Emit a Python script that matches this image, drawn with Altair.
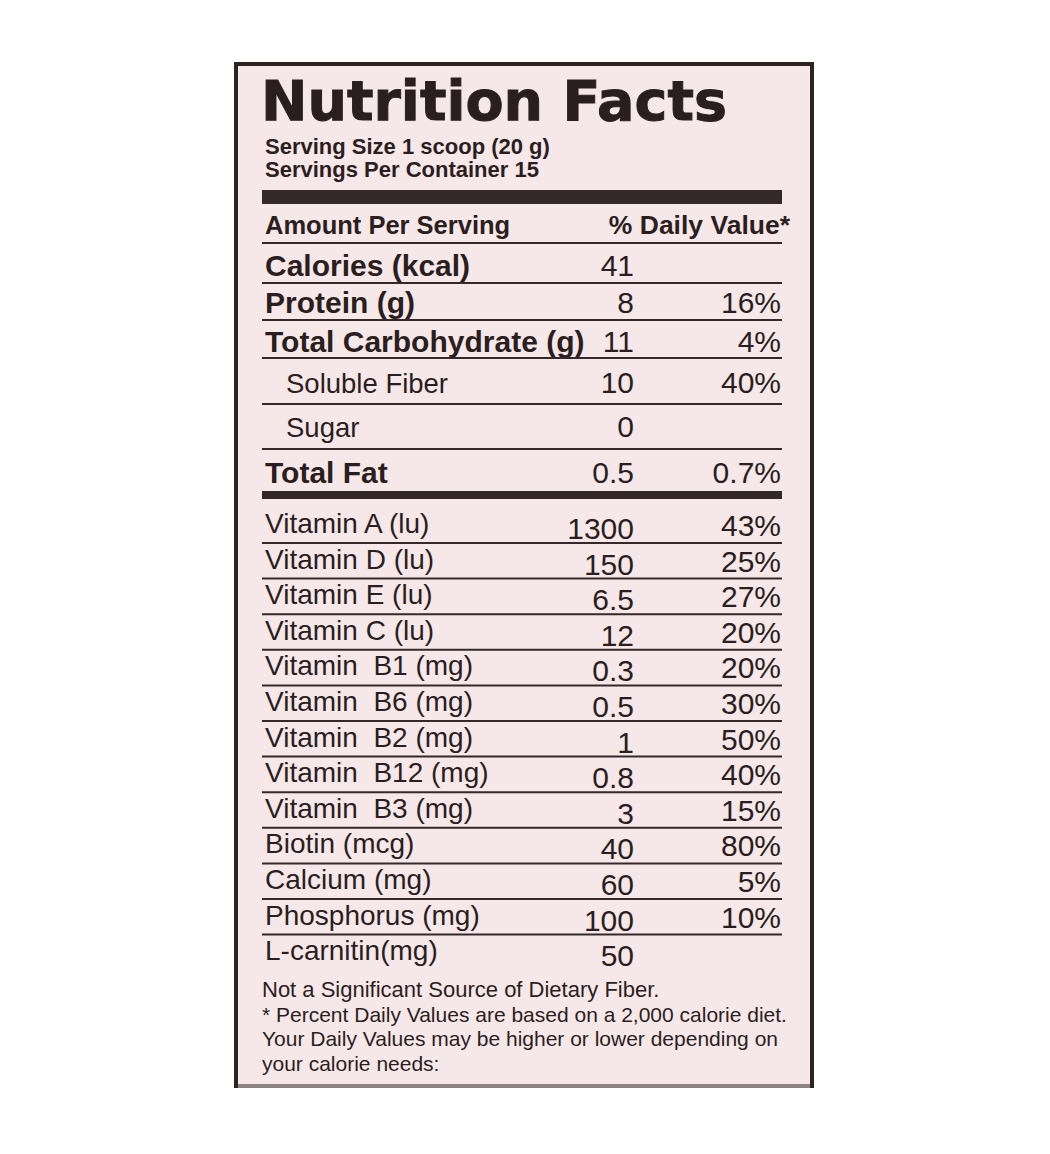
import altair as alt
import pandas as pd

# ---------------- data ----------------
title = "Nutrition Facts"
serving_lines = ["Serving Size 1 scoop (20 g)", "Servings Per Container 15"]
header_left = "Amount Per Serving"
header_right = "% Daily Value*"

main_labels = ["Calories (kcal)", "Protein (g)", "Total Carbohydrate (g)",
               "Soluble Fiber", "Sugar", "Total Fat"]
main_amounts = ["41", "8", "11", "10", "0", "0.5"]
main_dv = ["", "16%", "4%", "40%", "", "0.7%"]
main_is_sub = [False, False, False, True, True, False]

vit_labels = ["Vitamin A (lu)", "Vitamin D (lu)", "Vitamin E (lu)", "Vitamin C (lu)",
              "Vitamin\u00a0 B1 (mg)", "Vitamin\u00a0 B6 (mg)", "Vitamin\u00a0 B2 (mg)",
              "Vitamin\u00a0 B12 (mg)", "Vitamin\u00a0 B3 (mg)", "Biotin (mcg)",
              "Calcium (mg)", "Phosphorus (mg)", "L-carnitin(mg)"]
vit_amounts = ["1300", "150", "6.5", "12", "0.3", "0.5", "1", "0.8", "3",
               "40", "60", "100", "50"]
vit_dv = ["43%", "25%", "27%", "20%", "20%", "30%", "50%", "40%", "15%",
          "80%", "5%", "10%", ""]

footnotes = ["Not a Significant Source of Dietary Fiber.",
             "* Percent Daily Values are based on a 2,000 calorie diet.",
             "Your Daily Values may be higher or lower depending on",
             "your calorie needs:"]

# ---------------- layout (page pixels) ----------------
W, H = 1034, 1130
M = 8  # page margin
TEXT = "#2b1e1e"
LINE = "#35282a"
BG = "#f6e8e8"
SANS = "Liberation Sans"

xs = alt.Scale(domain=[0, W], range=[0, W])
ys = alt.Scale(domain=[0, H], range=[0, H])


def X(f="x"):
    return alt.X(f + ":Q", scale=xs, axis=None)


def Y(f="y"):
    return alt.Y(f + ":Q", scale=ys, axis=None)


def texts(rows, align, size, weight="normal", font=SANS, **kw):
    df = pd.DataFrame([{"x": x - M, "y": y - M, "t": t} for x, y, t in rows if t != ""])
    return alt.Chart(df).mark_text(align=align, baseline="alphabetic", font=font,
                                   fontSize=size, fontWeight=weight, color=TEXT, **kw
                                   ).encode(x=X(), y=Y(), text="t:N")


def rules(rows, width, color=LINE):
    df = pd.DataFrame([{"x": a - M, "x2": b - M, "y": y - M} for a, b, y in rows])
    return alt.Chart(df).mark_rule(color=color, strokeWidth=width).encode(
        x=X(), x2="x2", y=Y())


def bars(rows, color=LINE):
    df = pd.DataFrame([{"x": a - M, "x2": b - M, "y": c - M, "y2": d - M} for a, b, c, d in rows])
    return alt.Chart(df).mark_rect(color=color).encode(x=X(), x2="x2", y=Y(), y2="y2")


LX, SUBX, AMX, DVX, RX = 265, 286, 634, 781, 782
LL = 262

layers = []
# label panel
border = pd.DataFrame([{"x": 236 - M, "x2": 812 - M, "y": 64 - M, "y2": 1086 - M}])
layers.append(alt.Chart(border).mark_rect(fill=BG, stroke="#2e2323", strokeWidth=4).encode(
    x=X(), x2="x2", y=Y(), y2="y2"))
layers.append(rules([(238, 810, 1086)], 4, color="#8f8585"))

# title block
layers.append(texts([(261, 120, title)], "left", 55.5, "bold", font="DejaVu Sans",
                    stroke=TEXT, strokeWidth=1))
layers.append(texts([(265, 154 + 23 * i, s) for i, s in enumerate(serving_lines)], "left", 22, "bold"))
layers.append(bars([(LL, RX, 190, 204)]))
layers.append(texts([(LX, 234, header_left)], "left", 25.5, "bold"))
layers.append(texts([(790, 234, header_right)], "right", 26.5, "bold"))
layers.append(rules([(LL, RX, 243)], 2))

# main nutrients
main_base = [276, 313, 352, 393, 437, 483]
main_lines = [283, 320, 358, 404, 449]
layers.append(texts([(LX, b, t) for b, t, s in zip(main_base, main_labels, main_is_sub) if not s],
                    "left", 30, "bold"))
layers.append(texts([(SUBX, b, t) for b, t, s in zip(main_base, main_labels, main_is_sub) if s],
                    "left", 27.5))
layers.append(texts([(AMX, b, t) for b, t in zip(main_base, main_amounts)], "right", 30))
layers.append(texts([(DVX, b, t) for b, t in zip(main_base, main_dv)], "right", 30))
layers.append(rules([(LL, RX, y) for y in main_lines], 2))
layers.append(bars([(LL, RX, 491, 499)]))

# vitamins & minerals
STEP = 35.6
vit_line = [543 + STEP * i for i in range(len(vit_labels))]
layers.append(texts([(LX, v - 10, t) for v, t in zip(vit_line, vit_labels)], "left", 28))
layers.append(texts([(AMX, v - 4, t) for v, t in zip(vit_line, vit_amounts)], "right", 30))
layers.append(texts([(DVX, v - 7, t) for v, t in zip(vit_line, vit_dv)], "right", 30))
layers.append(rules([(LL, RX, v) for v in vit_line[:-1]], 2))

# footnotes
layers.append(texts([(262, 997, footnotes[0])], "left", 22))
layers.append(texts([(262, 997 + 24.5 * i, t) for i, t in enumerate(footnotes) if i > 0], "left", 21))

chart = alt.layer(*layers).properties(
    width=W, height=H, padding=0, autosize=alt.AutoSizeParams(type="none"),
    background="white"
).configure_view(stroke=None)

chart.save("out.html", embed_options={"renderer": "svg", "actions": False})
